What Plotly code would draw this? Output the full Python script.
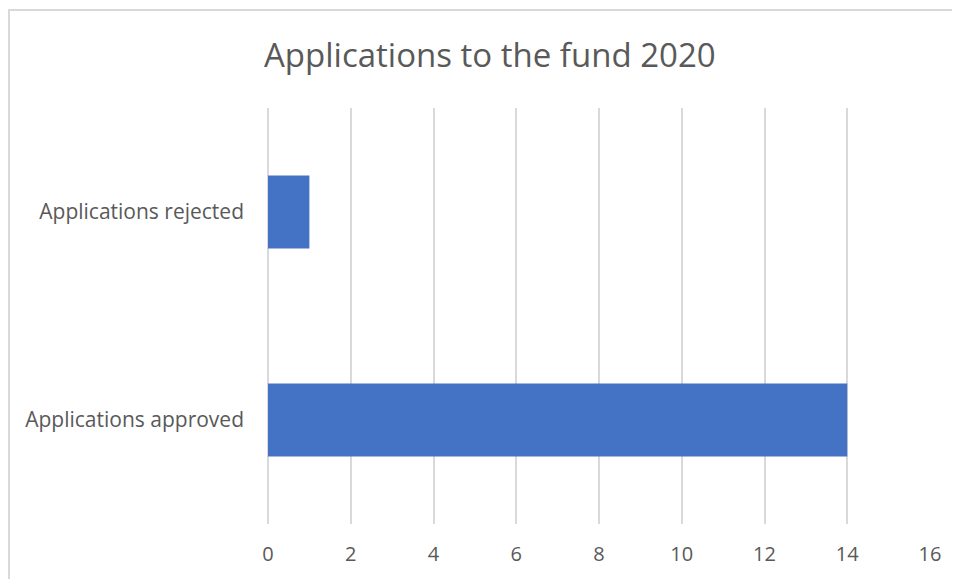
import plotly.graph_objects as go

categories = ["Applications approved", "Applications rejected"]
values = [14, 1]
tick_vals = [0, 2, 4, 6, 8, 10, 12, 14, 16]
title_text = "Applications to the fund 2020"

# page has an 8px body margin; coordinates below are relative to the figure
OFF = 8
W, H = 960, 579
L, R, T, B = 268 - OFF, 930 - OFF, 108 - OFF, 524 - OFF

fig = go.Figure(go.Bar(
    y=categories, x=values, orientation="h",
    marker=dict(color="#4472C4", line=dict(width=0)),
    width=0.35,
))

font = "Open Sans"
fig.update_layout(
    width=W, height=H,
    margin=dict(l=L, r=W - R, t=T, b=H - B, pad=0),
    paper_bgcolor="white", plot_bgcolor="white",
    showlegend=False,
    font=dict(family=font, color="#595959"),
    xaxis=dict(range=[0, 16], tickvals=tick_vals, showgrid=True,
               gridcolor="#D9D9D9", gridwidth=1.5, zeroline=True,
               zerolinecolor="#D9D9D9", zerolinewidth=1.5, showline=False,
               ticks="", ticklabelstandoff=16,
               tickfont=dict(size=20, color="#595959")),
    yaxis=dict(range=[-0.5, 1.5], showgrid=False, zeroline=False, showline=False,
               ticks="", ticklabelstandoff=23,
               tickfont=dict(size=21, color="#595959")),
    annotations=[dict(text=title_text, xref="paper", yref="paper",
                      x=(489.5 - OFF - L) / (R - L), y=(B - (54 - OFF)) / (B - T),
                      xanchor="center", yanchor="middle", showarrow=False,
                      font=dict(size=33, color="#595959", family=font))],
    shapes=[dict(type="rect", xref="paper", yref="paper",
                 x0=(9 - OFF - L) / (R - L), x1=(1000 - L) / (R - L),
                 y0=(B - 620) / (B - T), y1=(B - (10 - OFF)) / (B - T),
                 line=dict(color="#D9D9D9", width=2), layer="below")],
)

fig.write_html("out.html")
